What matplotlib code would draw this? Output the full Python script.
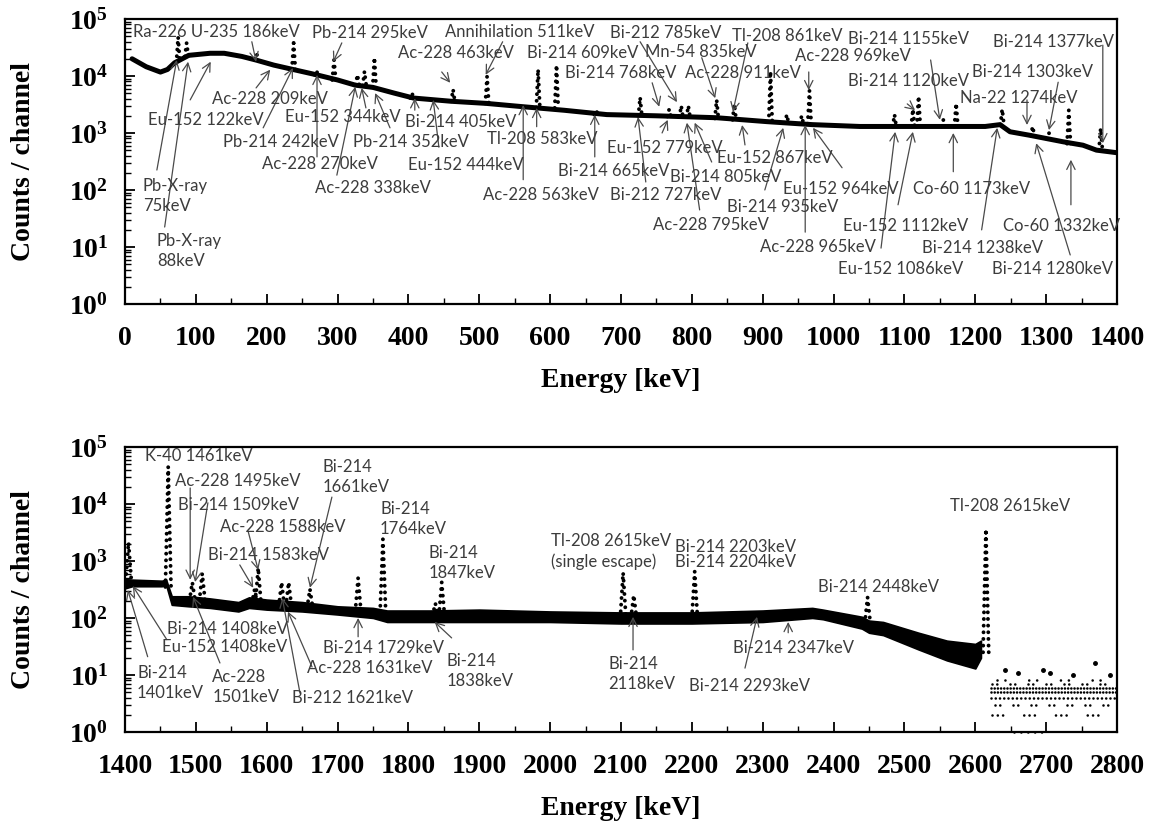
import numpy as np
import matplotlib
matplotlib.use("Agg")
import matplotlib.pyplot as plt
from matplotlib.ticker import MultipleLocator, LogLocator, NullFormatter, FixedLocator

plt.rcParams['mathtext.fontset'] = 'custom'
plt.rcParams['mathtext.rm'] = 'Liberation Serif:bold'
plt.rcParams['mathtext.it'] = 'Liberation Serif:bold'
plt.rcParams['mathtext.bf'] = 'Liberation Serif:bold'

# ---------------- spectrum values ----------------
# upper panel 0-1400 keV : continuum
top_cont_energy = [10, 30, 50, 60, 70, 90, 120, 140, 165, 185, 210, 237, 270, 300, 325,
                   350, 380, 407, 460, 510, 560, 620, 680, 750, 835, 906, 970, 1037,
                   1100, 1214, 1235, 1249, 1277, 1324, 1352, 1371, 1400]
top_cont_counts = [2.0e4, 1.45e4, 1.17e4, 1.3e4, 1.7e4, 2.3e4, 2.5e4, 2.5e4, 2.2e4, 1.9e4,
                   1.55e4, 1.3e4, 1.05e4, 8.5e3, 6.9e3, 6.3e3, 5.0e3, 4.1e3, 3.6e3, 3.3e3,
                   2.9e3, 2.5e3, 2.1e3, 2.0e3, 1.85e3, 1.58e3, 1.4e3, 1.3e3, 1.3e3, 1.3e3,
                   1.4e3, 1.05e3, 910, 700, 610, 500, 450]

# upper panel peaks: energy, continuum under the peak, top of the peak
top_peak_energy = [75, 87, 186, 238, 270, 295, 328, 338, 352, 405, 463, 511, 583, 609,
                   665, 727, 768, 785, 795, 835, 860, 911, 934, 955, 966, 1086, 1112,
                   1120, 1155, 1173, 1238, 1281, 1304, 1332, 1377]
top_peak_base = [1.7e4, 2.2e4, 1.9e4, 1.3e4, 1.05e4, 8.5e3, 7.0e3, 6.8e3, 6.3e3, 4.1e3,
                 3.6e3, 3.3e3, 2.8e3, 2.75e3, 2.1e3, 2.0e3, 1.95e3, 1.9e3, 1.9e3, 1.8e3,
                 1.7e3, 1.55e3, 1.5e3, 1.45e3, 1.45e3, 1.3e3, 1.3e3, 1.3e3, 1.3e3, 1.3e3,
                 1.4e3, 900, 780, 650, 500]
top_peak_top = [4.8e4, 3.8e4, 2.4e4, 3.8e4, 1.25e4, 1.9e4, 1.05e4, 1.2e4, 2.1e4, 5.0e3,
                5.8e3, 9.8e3, 1.3e4, 1.55e4, 2.5e3, 4.2e3, 2.6e3, 3.0e3, 3.0e3, 3.8e3,
                3.2e3, 1.2e4, 2.1e3, 2.0e3, 5.5e3, 2.1e3, 2.6e3, 4.4e3, 1.7e3, 3.3e3,
                2.6e3, 1.3e3, 1.0e3, 2.5e3, 1.2e3]

# lower panel 1400-2800 keV : continuum band (spread of the channels)
bot_cont_energy = [1400, 1410, 1452, 1458, 1466, 1490, 1520, 1560, 1575, 1600, 1650, 1700,
                   1750, 1770, 1830, 1900, 2000, 2100, 2200, 2300, 2370, 2385, 2440, 2450,
                   2470, 2520, 2560, 2600, 2608]
bot_cont_low = [330, 360, 360, 380, 170, 160, 150, 130, 150, 140, 130, 115, 100, 85, 85,
                85, 85, 80, 80, 85, 100, 95, 65, 55, 50, 28, 18, 13, 20]
bot_cont_high = [480, 470, 450, 470, 240, 240, 220, 190, 230, 210, 190, 160, 150, 135,
                 135, 140, 130, 125, 125, 135, 150, 140, 105, 90, 85, 55, 40, 35, 40]

bot_peak_energy = [1405, 1461, 1495, 1509, 1583, 1588, 1621, 1631, 1661, 1729, 1764, 1838,
                   1847, 2103, 2118, 2204, 2448, 2615]
bot_peak_base = [450, 350, 200, 200, 180, 180, 160, 160, 150, 130, 125, 110, 110, 100,
                 100, 100, 80, 25]
bot_peak_top = [2100, 4.5e4, 420, 600, 320, 750, 420, 420, 320, 500, 2400, 180, 420, 620,
                250, 650, 230, 3600]

# above the 2615 keV line only a few counts per channel remain
tail_levels = [1, 2, 3, 4, 5, 6, 7, 8]
tail_start = [2655, 2624, 2628, 2622, 2622, 2622, 2624, 2630]
tail_end = [2700, 2800, 2800, 2800, 2800, 2800, 2800, 2800]
tail_extra_energy = [2642, 2660, 2696, 2705, 2738, 2769, 2790]
tail_extra_counts = [12, 11, 12, 11, 10, 16, 10]

# peak names
top_names = ["Ra-226 U-235 186keV", "Pb-214 295keV", "Ac-228 463keV", "Annihilation 511keV",
             "Bi-214 609keV", "Bi-214 768keV", "Bi-212 785keV", "Mn-54 835keV",
             "Ac-228 911keV", "Tl-208 861keV", "Ac-228 969keV", "Bi-214 1155keV",
             "Bi-214 1120keV", "Bi-214 1303keV", "Na-22 1274keV", "Bi-214 1377keV",
             "Ac-228 209keV", "Eu-152 122keV", "Pb-X-ray\n75keV", "Pb-X-ray\n88keV",
             "Pb-214 242keV", "Eu-152 344keV", "Ac-228 270keV", "Ac-228 338keV",
             "Pb-214 352keV", "Bi-214 405keV", "Eu-152 444keV", "Tl-208 583keV",
             "Ac-228 563keV", "Bi-214 665keV", "Eu-152 779keV", "Bi-212 727keV",
             "Bi-214 805keV", "Ac-228 795keV", "Eu-152 867keV", "Bi-214 935keV",
             "Ac-228 965keV", "Eu-152 964keV", "Eu-152 1112keV", "Eu-152 1086keV",
             "Co-60 1173keV", "Bi-214 1238keV", "Co-60 1332keV", "Bi-214 1280keV"]
bot_names = ["K-40 1461keV", "Ac-228 1495keV", "Bi-214 1509keV", "Bi-214\n1661keV",
             "Ac-228 1588keV", "Bi-214 1583keV", "Bi-214\n1764keV", "Bi-214\n1847keV",
             "Tl-208 2615keV\n(single escape)", "Bi-214 2203keV\nBi-214 2204keV",
             "Bi-214 2448keV", "Tl-208 2615keV", "Bi-214 1408keV", "Eu-152 1408keV",
             "Bi-214\n1401keV", "Ac-228\n1501keV", "Ac-228 1631keV", "Bi-212 1621keV",
             "Bi-214 1729keV", "Bi-214\n1838keV", "Bi-214\n2118keV", "Bi-214 2293keV",
             "Bi-214 2347keV"]

# ---------------- label layout: text (keV, log10 y), arrow tail, arrow tip ----------------
top_layout = [
    ((11, 4.77), (179, 4.60), (185, 4.25)),
    ((264, 4.75), (306, 4.58), (294, 4.25)),
    ((385, 4.40), (447, 4.07), (459, 3.88)),
    ((452, 4.77), (533, 4.60), (509, 4.02)),
    ((567, 4.40), None, None),
    ((621, 4.05), (744, 3.88), (754, 3.46)),
    ((684, 4.75), (727, 4.60), (779, 3.54)),
    ((734, 4.42), (814, 4.32), (833, 3.61)),
    ((790, 4.05), None, None),
    ((857, 4.70), (879, 4.58), (858, 3.37)),
    ((946, 4.35), (965, 4.07), (965, 3.75)),
    ((1020, 4.65), (1137, 4.28), (1150, 3.23)),
    ((1020, 3.91), (1104, 3.51), (1115, 3.40)),
    ((1195, 4.07), (1317, 3.89), (1304, 3.05)),
    ((1178, 3.61), (1273, 3.58), (1273, 3.14)),
    ((1225, 4.60), (1380, 4.54), (1380, 2.82)),
    ((123, 3.60), (185, 3.79), (205, 4.11)),
    ((32, 3.23), (92, 3.58), (121, 4.25)),
    ((25, 1.89), (45, 2.35), (73, 4.28)),
    ((45, 0.93), (56, 1.35), (89, 4.25)),
    ((138, 2.84), (195, 3.09), (237, 4.14)),
    ((226, 3.28), (340, 3.44), (334, 3.79)),
    ((193, 2.46), (271, 2.58), (271, 4.02)),
    ((268, 2.04), (299, 2.26), (325, 3.81)),
    ((322, 2.84), (374, 3.09), (353, 3.70)),
    ((395, 3.19), (409, 3.40), (409, 3.61)),
    ((399, 2.44), (443, 2.75), (435, 3.58)),
    ((511, 2.89), (581, 3.11), (581, 3.44)),
    ((505, 1.91), (562, 2.18), (562, 3.49)),
    ((611, 2.33), (663, 2.58), (663, 3.32)),
    ((680, 2.74), (758, 3.00), (766, 3.23)),
    ((684, 1.91), (735, 2.14), (724, 3.28)),
    ((769, 2.23), (828, 2.49), (804, 3.18)),
    ((745, 1.39), (811, 1.65), (793, 3.18)),
    ((835, 2.56), (875, 2.79), (871, 3.14)),
    ((850, 1.70), (903, 2.00), (929, 3.09)),
    ((896, 1.00), (960, 1.26), (960, 3.14)),
    ((929, 2.02), (1012, 2.39), (971, 3.09)),
    ((1013, 1.37), (1091, 1.74), (1112, 3.02)),
    ((1006, 0.61), (1067, 0.98), (1087, 3.02)),
    ((1112, 2.02), (1169, 2.32), (1169, 3.00)),
    ((1125, 0.98), (1209, 1.30), (1231, 3.09)),
    ((1239, 1.37), (1335, 1.74), (1335, 2.53)),
    ((1224, 0.61), (1334, 0.86), (1286, 2.82)),
]
bot_layout = [
    ((1428, 4.84), None, None),
    ((1471, 4.40), (1492, 4.28), (1492, 2.67)),
    ((1475, 3.98), (1517, 4.02), (1499, 2.63)),
    ((1679, 4.48), (1692, 4.12), (1661, 2.53)),
    ((1534, 3.60), (1574, 3.51), (1588, 2.84)),
    ((1517, 3.11), (1562, 2.93), (1581, 2.53)),
    ((1760, 3.74), None, None),
    ((1829, 2.96), None, None),
    ((2001, 3.17), None, None),
    ((2176, 3.11), None, None),
    ((2378, 2.54), None, None),
    ((2564, 3.96), None, None),
    ((1459, 1.81), (1459, 1.62), (1411, 2.56)),
    ((1452, 1.49), None, None),
    ((1417, 0.86), (1432, 1.32), (1404, 2.49)),
    ((1523, 0.79), (1534, 1.21), (1496, 2.37)),
    ((1657, 1.12), (1664, 1.14), (1630, 2.11)),
    ((1636, 0.60), (1647, 0.68), (1622, 2.35)),
    ((1679, 1.47), (1729, 1.67), (1729, 2.00)),
    ((1854, 1.07), (1861, 1.65), (1837, 1.93)),
    ((2082, 1.01), (2117, 1.44), (2117, 2.02)),
    ((2196, 0.81), (2275, 1.12), (2292, 2.02)),
    ((2258, 1.47), (2336, 1.74), (2336, 1.93)),
]

serif = dict(family='Liberation Serif', weight='bold', size=20)
label_font = dict(family=['Lato', 'DejaVu Sans'], size=12, color='#3c3c3c')
dots = (0, (0.01, 1.7))


def setup_axes(ax, xmin, xmax):
    ax.set_yscale('log')
    ax.set_xlim(xmin, xmax)
    ax.set_ylim(1, 1e5)
    ax.xaxis.set_major_locator(MultipleLocator(100))
    ax.xaxis.set_minor_locator(MultipleLocator(50))
    ax.yaxis.set_major_locator(FixedLocator([1, 10, 100, 1e3, 1e4, 1e5]))
    ax.yaxis.set_minor_locator(LogLocator(base=10, subs=np.arange(2, 10), numticks=12))
    ax.yaxis.set_minor_formatter(NullFormatter())
    ax.set_yticklabels([r'$\mathregular{10^{%d}}$' % k for k in range(6)], **serif)
    ax.set_xticks(np.arange(xmin, xmax + 1, 100))
    ax.set_xticklabels([str(int(v)) for v in np.arange(xmin, xmax + 1, 100)], **serif)
    ax.tick_params(which='major', direction='in', length=7, width=1.3, top=False, right=False)
    ax.tick_params(which='minor', direction='in', length=4, width=1.0, top=False, right=False)
    ax.tick_params(axis='x', which='major', pad=16)
    ax.tick_params(axis='y', which='major', pad=12)
    for s in ax.spines.values():
        s.set_linewidth(1.6)
    ax.set_xlabel('Energy [keV]', labelpad=12, **serif)
    ax.set_ylabel('Counts / channel', labelpad=24, **serif)


def draw_peaks(ax, energy, base, top, hw):
    for e, b, t in zip(energy, base, top):
        ax.plot([e - hw, e, e + hw], [b, t, b], color='k', lw=2.8, linestyle=dots,
                dash_capstyle='round', zorder=3)


def draw_labels(ax, names, layout):
    for name, (txt, tail, tip) in zip(names, layout):
        ls = 0.95 if '2204' in name else 1.3
        ax.text(txt[0], 10 ** txt[1], name, ha='left', va='center', linespacing=ls,
                zorder=5, **label_font)
        if tail is not None:
            ax.annotate('', xy=(tip[0], 10 ** tip[1]), xytext=(tail[0], 10 ** tail[1]),
                        arrowprops=dict(arrowstyle='->,head_length=0.6,head_width=0.3',
                                        color='#4a4a4a', lw=0.9, shrinkA=0, shrinkB=0),
                        zorder=4)


fig = plt.figure(figsize=(11.52, 8.24), dpi=100)
ax1 = fig.add_axes([0.1085, 0.6311, 0.8611, 0.3459])
ax2 = fig.add_axes([0.1085, 0.1117, 0.8611, 0.3459])

# upper panel
ax1.plot(top_cont_energy, top_cont_counts, color='k', lw=3.6, solid_capstyle='round', zorder=3)
draw_peaks(ax1, top_peak_energy, top_peak_base, top_peak_top, 2.5)
setup_axes(ax1, 0, 1400)
draw_labels(ax1, top_names, top_layout)

# lower panel
ax2.fill_between(bot_cont_energy, bot_cont_low, bot_cont_high, color='k', lw=1.2, zorder=3)
draw_peaks(ax2, bot_peak_energy, bot_peak_base, bot_peak_top, 4)
tail_styles = [(0, (0.01, 2.6)), (0, (0.01, 2.0, 0.01, 2.0, 0.01, 8)), (0, (0.01, 1.8, 0.01, 5)),
               (0, (0.01, 1.6)), (0, (0.01, 1.2)), (0, (0.01, 1.2)), (0, (0.01, 1.8, 0.01, 5)),
               (0, (0.01, 3, 0.01, 9))]
for lev, x0, x1, st in zip(tail_levels, tail_start, tail_end, tail_styles):
    ax2.plot([x0, x1], [lev, lev], color='k', lw=1.9, linestyle=st, dash_capstyle='round',
             zorder=3, clip_on=False)
ax2.plot(tail_extra_energy, tail_extra_counts, 'k.', ms=5, zorder=3)
setup_axes(ax2, 1400, 2800)
draw_labels(ax2, bot_names, bot_layout)

fig.savefig('out.png', dpi=100)
